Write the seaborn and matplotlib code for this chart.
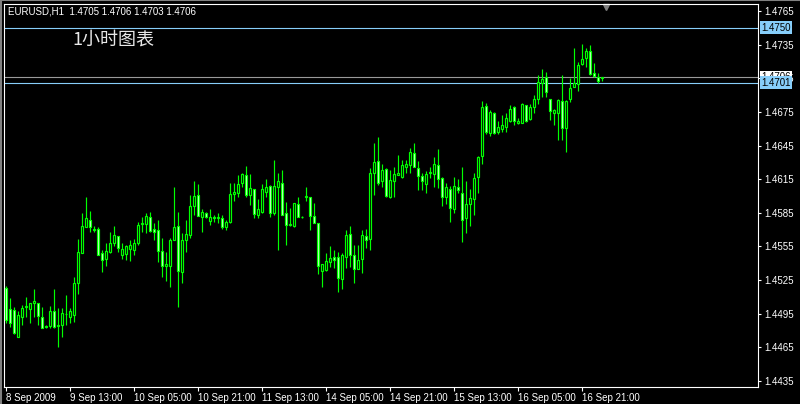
import numpy as np
import matplotlib
matplotlib.use("Agg")
import matplotlib.pyplot as plt
import matplotlib.transforms as mtransforms
from matplotlib.lines import Line2D
import seaborn as sns

# EURUSD H1 quotes, 8 Sep 2009 21:00 onwards
symbol_info = "EURUSD,H1  1.4705 1.4706 1.4703 1.4706"
chart_title = "1小时图表"

opens = [1.4518, 1.4499, 1.4498, 1.4474, 1.4492, 1.4501, 1.4499, 1.4505, 1.4505, 1.4492,
         1.4484, 1.4484, 1.4497, 1.4484, 1.4485, 1.4495, 1.4492, 1.4494, 1.4522, 1.4549,
         1.4572, 1.4579, 1.4571, 1.4571, 1.4549, 1.4544, 1.4550, 1.4558, 1.4564, 1.4547,
         1.4548, 1.4553, 1.4552, 1.4558, 1.4575, 1.4575, 1.4581, 1.4571, 1.4570, 1.4551,
         1.4538, 1.4538, 1.4561, 1.4573, 1.4532, 1.4561, 1.4565, 1.4591, 1.4601, 1.4581,
         1.4585, 1.4578, 1.4581, 1.4580, 1.4580, 1.4572, 1.4577, 1.4602, 1.4603, 1.4612,
         1.4619, 1.4601, 1.4606, 1.4583, 1.4586, 1.4604, 1.4609, 1.4585, 1.4608, 1.4612,
         1.4585, 1.4574, 1.4573, 1.4593, 1.4581, 1.4599, 1.4599, 1.4582, 1.4576, 1.4533,
         1.4534, 1.4541, 1.4546, 1.4546, 1.4526, 1.4546, 1.4566, 1.4547, 1.4535, 1.4544,
         1.4564, 1.4562, 1.4621, 1.4631, 1.4613, 1.4624, 1.4599, 1.4613, 1.4619, 1.4617,
         1.4626, 1.4628, 1.4638, 1.4625, 1.4618, 1.4611, 1.4621, 1.4620, 1.4628, 1.4616,
         1.4599, 1.4606, 1.4588, 1.4608, 1.4603, 1.4580, 1.4593, 1.4597, 1.4617, 1.4636,
         1.4680, 1.4656, 1.4674, 1.4657, 1.4660, 1.4662, 1.4667, 1.4679, 1.4665, 1.4665,
         1.4681, 1.4669, 1.4679, 1.4687, 1.4701, 1.4706, 1.4687, 1.4674, 1.4674, 1.4685,
         1.4661, 1.4687, 1.4697, 1.4700, 1.4718, 1.4723, 1.4729, 1.4710, 1.4706, 1.4705]

highs = [1.4520, 1.4509, 1.4501, 1.4497, 1.4503, 1.4510, 1.4505, 1.4517, 1.4505, 1.4501,
         1.4485, 1.4502, 1.4517, 1.4500, 1.4500, 1.4512, 1.4500, 1.4528, 1.4562, 1.4585,
         1.4599, 1.4587, 1.4573, 1.4572, 1.4552, 1.4558, 1.4568, 1.4573, 1.4564, 1.4558,
         1.4556, 1.4561, 1.4562, 1.4577, 1.4581, 1.4585, 1.4586, 1.4576, 1.4579, 1.4563,
         1.4550, 1.4563, 1.4608, 1.4586, 1.4567, 1.4579, 1.4601, 1.4613, 1.4611, 1.4588,
         1.4586, 1.4588, 1.4583, 1.4585, 1.4583, 1.4579, 1.4612, 1.4612, 1.4619, 1.4621,
         1.4627, 1.4620, 1.4606, 1.4597, 1.4611, 1.4615, 1.4610, 1.4632, 1.4621, 1.4623,
         1.4595, 1.4589, 1.4594, 1.4599, 1.4582, 1.4608, 1.4599, 1.4594, 1.4576, 1.4539,
         1.4549, 1.4555, 1.4552, 1.4550, 1.4549, 1.4570, 1.4573, 1.4556, 1.4556, 1.4570,
         1.4571, 1.4625, 1.4647, 1.4653, 1.4629, 1.4625, 1.4623, 1.4626, 1.4637, 1.4632,
         1.4632, 1.4643, 1.4647, 1.4631, 1.4621, 1.4622, 1.4626, 1.4635, 1.4642, 1.4617,
         1.4612, 1.4609, 1.4617, 1.4615, 1.4626, 1.4613, 1.4606, 1.4621, 1.4636, 1.4685,
         1.4683, 1.4677, 1.4675, 1.4667, 1.4672, 1.4674, 1.4681, 1.4680, 1.4670, 1.4683,
         1.4681, 1.4682, 1.4690, 1.4708, 1.4713, 1.4711, 1.4687, 1.4678, 1.4687, 1.4708,
         1.4686, 1.4705, 1.4732, 1.4720, 1.4736, 1.4732, 1.4735, 1.4719, 1.4710, 1.4706]

lows = [1.4487, 1.4483, 1.4477, 1.4474, 1.4485, 1.4492, 1.4487, 1.4492, 1.4485, 1.4482,
        1.4482, 1.4482, 1.4482, 1.4465, 1.4474, 1.4485, 1.4487, 1.4488, 1.4513, 1.4549,
        1.4572, 1.4568, 1.4568, 1.4547, 1.4532, 1.4538, 1.4549, 1.4555, 1.4550, 1.4544,
        1.4543, 1.4542, 1.4547, 1.4556, 1.4568, 1.4567, 1.4568, 1.4561, 1.4541, 1.4528,
        1.4524, 1.4519, 1.4561, 1.4501, 1.4522, 1.4550, 1.4563, 1.4583, 1.4582, 1.4568,
        1.4580, 1.4574, 1.4577, 1.4576, 1.4571, 1.4570, 1.4576, 1.4596, 1.4599, 1.4608,
        1.4599, 1.4592, 1.4580, 1.4580, 1.4585, 1.4599, 1.4581, 1.4583, 1.4552, 1.4583,
        1.4556, 1.4573, 1.4572, 1.4581, 1.4580, 1.4596, 1.4570, 1.4576, 1.4530, 1.4519,
        1.4533, 1.4537, 1.4536, 1.4514, 1.4517, 1.4536, 1.4537, 1.4522, 1.4535, 1.4531,
        1.4554, 1.4552, 1.4601, 1.4610, 1.4608, 1.4599, 1.4598, 1.4599, 1.4619, 1.4616,
        1.4621, 1.4621, 1.4626, 1.4605, 1.4605, 1.4603, 1.4616, 1.4608, 1.4607, 1.4591,
        1.4593, 1.4577, 1.4585, 1.4603, 1.4559, 1.4567, 1.4573, 1.4583, 1.4603, 1.4629,
        1.4655, 1.4654, 1.4655, 1.4655, 1.4657, 1.4657, 1.4666, 1.4663, 1.4664, 1.4665,
        1.4666, 1.4668, 1.4674, 1.4682, 1.4688, 1.4688, 1.4668, 1.4663, 1.4650, 1.4650,
        1.4639, 1.4684, 1.4697, 1.4694, 1.4717, 1.4715, 1.4708, 1.4706, 1.4701, 1.4703]

closes = [1.4489, 1.4487, 1.4478, 1.4494, 1.4500, 1.4502, 1.4505, 1.4506, 1.4493, 1.4482,
          1.4483, 1.4497, 1.4483, 1.4485, 1.4496, 1.4495, 1.4497, 1.4522, 1.4550, 1.4573,
          1.4580, 1.4572, 1.4570, 1.4547, 1.4543, 1.4551, 1.4558, 1.4565, 1.4554, 1.4553,
          1.4555, 1.4556, 1.4558, 1.4574, 1.4576, 1.4582, 1.4569, 1.4568, 1.4551, 1.4538,
          1.4539, 1.4561, 1.4572, 1.4533, 1.4561, 1.4566, 1.4591, 1.4600, 1.4582, 1.4586,
          1.4581, 1.4581, 1.4580, 1.4581, 1.4572, 1.4577, 1.4602, 1.4604, 1.4611, 1.4620,
          1.4601, 1.4607, 1.4584, 1.4588, 1.4606, 1.4608, 1.4585, 1.4609, 1.4613, 1.4583,
          1.4574, 1.4575, 1.4594, 1.4581, 1.4581, 1.4600, 1.4582, 1.4576, 1.4538, 1.4539,
          1.4542, 1.4545, 1.4543, 1.4527, 1.4547, 1.4565, 1.4547, 1.4535, 1.4543, 1.4565,
          1.4561, 1.4621, 1.4630, 1.4612, 1.4623, 1.4600, 1.4614, 1.4620, 1.4621, 1.4628,
          1.4629, 1.4639, 1.4626, 1.4618, 1.4613, 1.4620, 1.4621, 1.4629, 1.4615, 1.4599,
          1.4608, 1.4589, 1.4609, 1.4605, 1.4579, 1.4593, 1.4598, 1.4616, 1.4635, 1.4679,
          1.4657, 1.4675, 1.4656, 1.4662, 1.4663, 1.4670, 1.4678, 1.4667, 1.4667, 1.4682,
          1.4667, 1.4679, 1.4687, 1.4702, 1.4704, 1.4693, 1.4676, 1.4677, 1.4686, 1.4661,
          1.4685, 1.4696, 1.4701, 1.4717, 1.4722, 1.4729, 1.4709, 1.4707, 1.4703, 1.4706]

tick_bars = [0, 16, 32, 48, 64, 80, 96, 112, 128, 144]
tick_labels = ["8 Sep 2009", "9 Sep 13:00", "10 Sep 05:00", "10 Sep 21:00", "11 Sep 13:00",
               "14 Sep 05:00", "14 Sep 21:00", "15 Sep 13:00", "16 Sep 05:00", "16 Sep 21:00"]
price_ticks = [1.4435, 1.4465, 1.4495, 1.4525, 1.4555, 1.4585, 1.4615, 1.4645,
               1.4675, 1.4705, 1.4735, 1.4765]

level_lines = [1.4750, 1.4701]
bid_price = 1.4706

sns.set_theme(style="dark", rc={"axes.facecolor": "black", "figure.facecolor": "black",
                                "axes.edgecolor": "white", "axes.grid": False})
plt.rcParams["font.family"] = ["Liberation Sans", "Noto Sans CJK SC", "DejaVu Sans"]

fig = plt.figure(figsize=(8, 4.04), dpi=100)
ax = fig.add_axes([0.005, 0.042, 0.9425, 0.948])

o = np.array(opens)
h = np.array(highs)
l = np.array(lows)
c = np.array(closes)
x = np.arange(len(o))
up = c >= o

green = "#00ff00"
ax.vlines(x, l, h, color=green, linewidth=0.85, zorder=2)
bottoms = np.minimum(o, c)
heights = np.maximum(np.abs(c - o), 0.000015)
ax.bar(x, heights, bottom=bottoms, width=0.55,
       color=np.where(up, "black", "#d8ffd8"), edgecolor=green, linewidth=0.85, zorder=3)

# horizontal levels + bid line
for lv in level_lines:
    ax.axhline(lv, color="#87cefa", linewidth=0.8, zorder=1)
ax.axhline(bid_price, color="#999999", linewidth=0.8, zorder=1)

ax.set_xlim(-0.45, 188.1)
ax.set_ylim(1.44296, 1.47713)

ax.yaxis.tick_right()
ax.set_yticks(price_ticks)
ax.set_yticklabels(["%.4f" % p for p in price_ticks])
ax.set_xticks(tick_bars)
ax.set_xticklabels(tick_labels)
for t in ax.get_xticklabels():
    t.set_horizontalalignment("left")
ax.tick_params(axis="y", colors="white", length=2.5, width=0.8, pad=2, labelsize=7, right=True, left=False)
ax.tick_params(axis="x", colors="white", length=3, width=0.8, pad=1.5, labelsize=7, bottom=True)
for sp in ax.spines.values():
    sp.set_color("white")
    sp.set_linewidth(0.8)

# price labels on the right scale (the bid label sits partly under the 1.4701 one)
trans = mtransforms.blended_transform_factory(ax.transAxes, ax.transData)
ax.text(1.004, bid_price, "%.4f" % bid_price, transform=trans, va="center", ha="left",
        fontsize=7, color="black", bbox=dict(boxstyle="square,pad=0.15", fc="white", ec="none"))
for lv in level_lines:
    ax.text(1.004, lv, "%.4f" % lv, transform=trans, va="center", ha="left",
            fontsize=7, color="black", bbox=dict(boxstyle="square,pad=0.15", fc="#87cefa", ec="none"))

# chart shift marker
ax.plot(0.798, 0.992, marker="v", markersize=5, color="#808080",
        transform=ax.transAxes, clip_on=False)

fig.text(8 / 800, 1 - 12 / 404, symbol_info, color="white", fontsize=7, va="center")
fig.text(72 / 800, 1 - 40 / 404, chart_title, color="#e8e8e8", fontsize=13, va="center",
         family=["Noto Sans CJK SC", "DejaVu Sans"])

# window border
fig.add_artist(Line2D([0.001, 0.001], [0, 1], color="#808080", linewidth=1.5, transform=fig.transFigure))
fig.add_artist(Line2D([0, 1], [0.999, 0.999], color="#808080", linewidth=1.5, transform=fig.transFigure))

fig.savefig("out.png", dpi=100, facecolor="black")
